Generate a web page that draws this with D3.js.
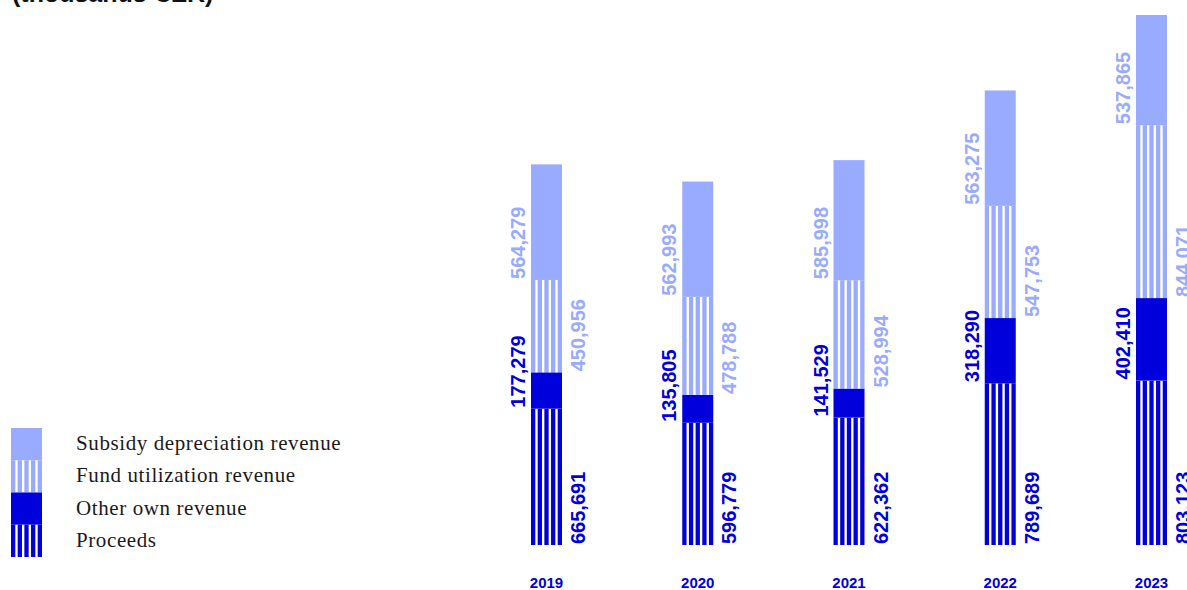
<!DOCTYPE html>
<html>
<head>
<meta charset="utf-8">
<script src="https://cdn.jsdelivr.net/npm/d3@7"></script>
<style>
  html, body { margin: 0; padding: 0; background: #ffffff; }
  svg { display: block; }
</style>
</head>
<body>
<svg id="chart" width="1187" height="590"></svg>
<script>
// Revenue structure by year (thousands CZK)
const years = ["2019", "2020", "2021", "2022", "2023"];
const proceeds = [665691, 596779, 622362, 789689, 803123];
const otherOwnRevenue = [177279, 135805, 141529, 318290, 402410];
const fundUtilizationRevenue = [450956, 478788, 528994, 547753, 844071];
const subsidyDepreciationRevenue = [564279, 562993, 585998, 563275, 537865];

const seriesNames = ["Proceeds", "Other own revenue", "Fund utilization revenue", "Subsidy depreciation revenue"];

const DARK = "#0000dc";
const LIGHT = "#99abff";

// Stack order, bottom to top
const series = [
  { name: seriesNames[0], values: proceeds, color: DARK, striped: true, side: "right" },
  { name: seriesNames[1], values: otherOwnRevenue, color: DARK, striped: false, side: "left" },
  { name: seriesNames[2], values: fundUtilizationRevenue, color: LIGHT, striped: true, side: "right" },
  { name: seriesNames[3], values: subsidyDepreciationRevenue, color: LIGHT, striped: false, side: "left" }
];

const svg = d3.select("#chart");
const fmt = d3.format(",");

const barW = 31;
const x = d3.scalePoint().domain(years).range([546.5, 1151.5]);

const totals = years.map((_, i) => d3.sum(series, s => s.values[i]));
const y = d3.scaleLinear().domain([0, d3.max(totals)]).range([545, 15]);

// vertical white stripes over a rectangle
const stripeDark = 4.3, stripeGap = 2.375;
function addStripes(g, x0, y0, h) {
  for (let k = 0; k < 4; k++) {
    g.append("rect")
      .attr("x", x0 + stripeDark + k * (stripeDark + stripeGap))
      .attr("y", y0)
      .attr("width", stripeGap)
      .attr("height", h)
      .attr("fill", "#ffffff");
  }
}

// Title (upper line sits above the visible area)
svg.append("text")
  .attr("x", 12)
  .attr("y", 2)
  .attr("font-family", "Liberation Sans, Arial, sans-serif")
  .attr("font-weight", "bold")
  .attr("font-size", 25)
  .attr("fill", "#111")
  .text("(thousands CZK)");

// Stacked bars
const barsG = svg.append("g");
years.forEach((yr, i) => {
  let base = 0;
  const cx = x(yr);
  const x0 = cx - barW / 2;
  series.forEach(s => {
    const v = s.values[i];
    const yTop = y(base + v);
    const yBot = y(base);
    const g = barsG.append("g");
    g.append("rect")
      .attr("x", x0)
      .attr("y", yTop)
      .attr("width", barW)
      .attr("height", yBot - yTop)
      .attr("fill", s.color);
    if (s.striped) addStripes(g, x0, yTop, yBot - yTop);

    // rotated value label, starting at the segment's bottom edge
    const lx = s.side === "right" ? x0 + barW + 23 : x0 - 6;
    const ly = yBot - 1;
    barsG.append("text")
      .attr("transform", `translate(${lx},${ly}) rotate(-90)`)
      .attr("font-family", "Liberation Sans, Arial, sans-serif")
      .attr("font-weight", "bold")
      .attr("font-size", 20)
      .attr("fill", s.color)
      .attr("text-anchor", "start")
      .text(fmt(v));
    base += v;
  });
});

// Year labels
svg.append("g").selectAll("text")
  .data(years)
  .join("text")
  .attr("x", d => x(d))
  .attr("y", 588)
  .attr("text-anchor", "middle")
  .attr("font-family", "Liberation Sans, Arial, sans-serif")
  .attr("font-weight", "bold")
  .attr("font-size", 15)
  .attr("fill", DARK)
  .text(d => d);

// Legend: one stacked swatch with labels, top to bottom
const legendItems = series.slice().reverse();
const legY = d3.scaleBand().domain(legendItems.map(d => d.name)).range([428, 557]);
const legend = svg.append("g");
legendItems.forEach(s => {
  const y0 = legY(s.name);
  const h = legY.bandwidth();
  const g = legend.append("g");
  g.append("rect")
    .attr("x", 11)
    .attr("y", y0)
    .attr("width", barW)
    .attr("height", h)
    .attr("fill", s.color);
  if (s.striped) addStripes(g, 11, y0, h);
  legend.append("text")
    .attr("x", 76)
    .attr("y", y0 + h / 2 + 6)
    .attr("font-family", "Liberation Serif, Times New Roman, serif")
    .attr("font-size", 21)
    .attr("letter-spacing", 0.6)
    .attr("fill", "#1a1a1a")
    .text(s.name);
});
</script>
</body>
</html>
